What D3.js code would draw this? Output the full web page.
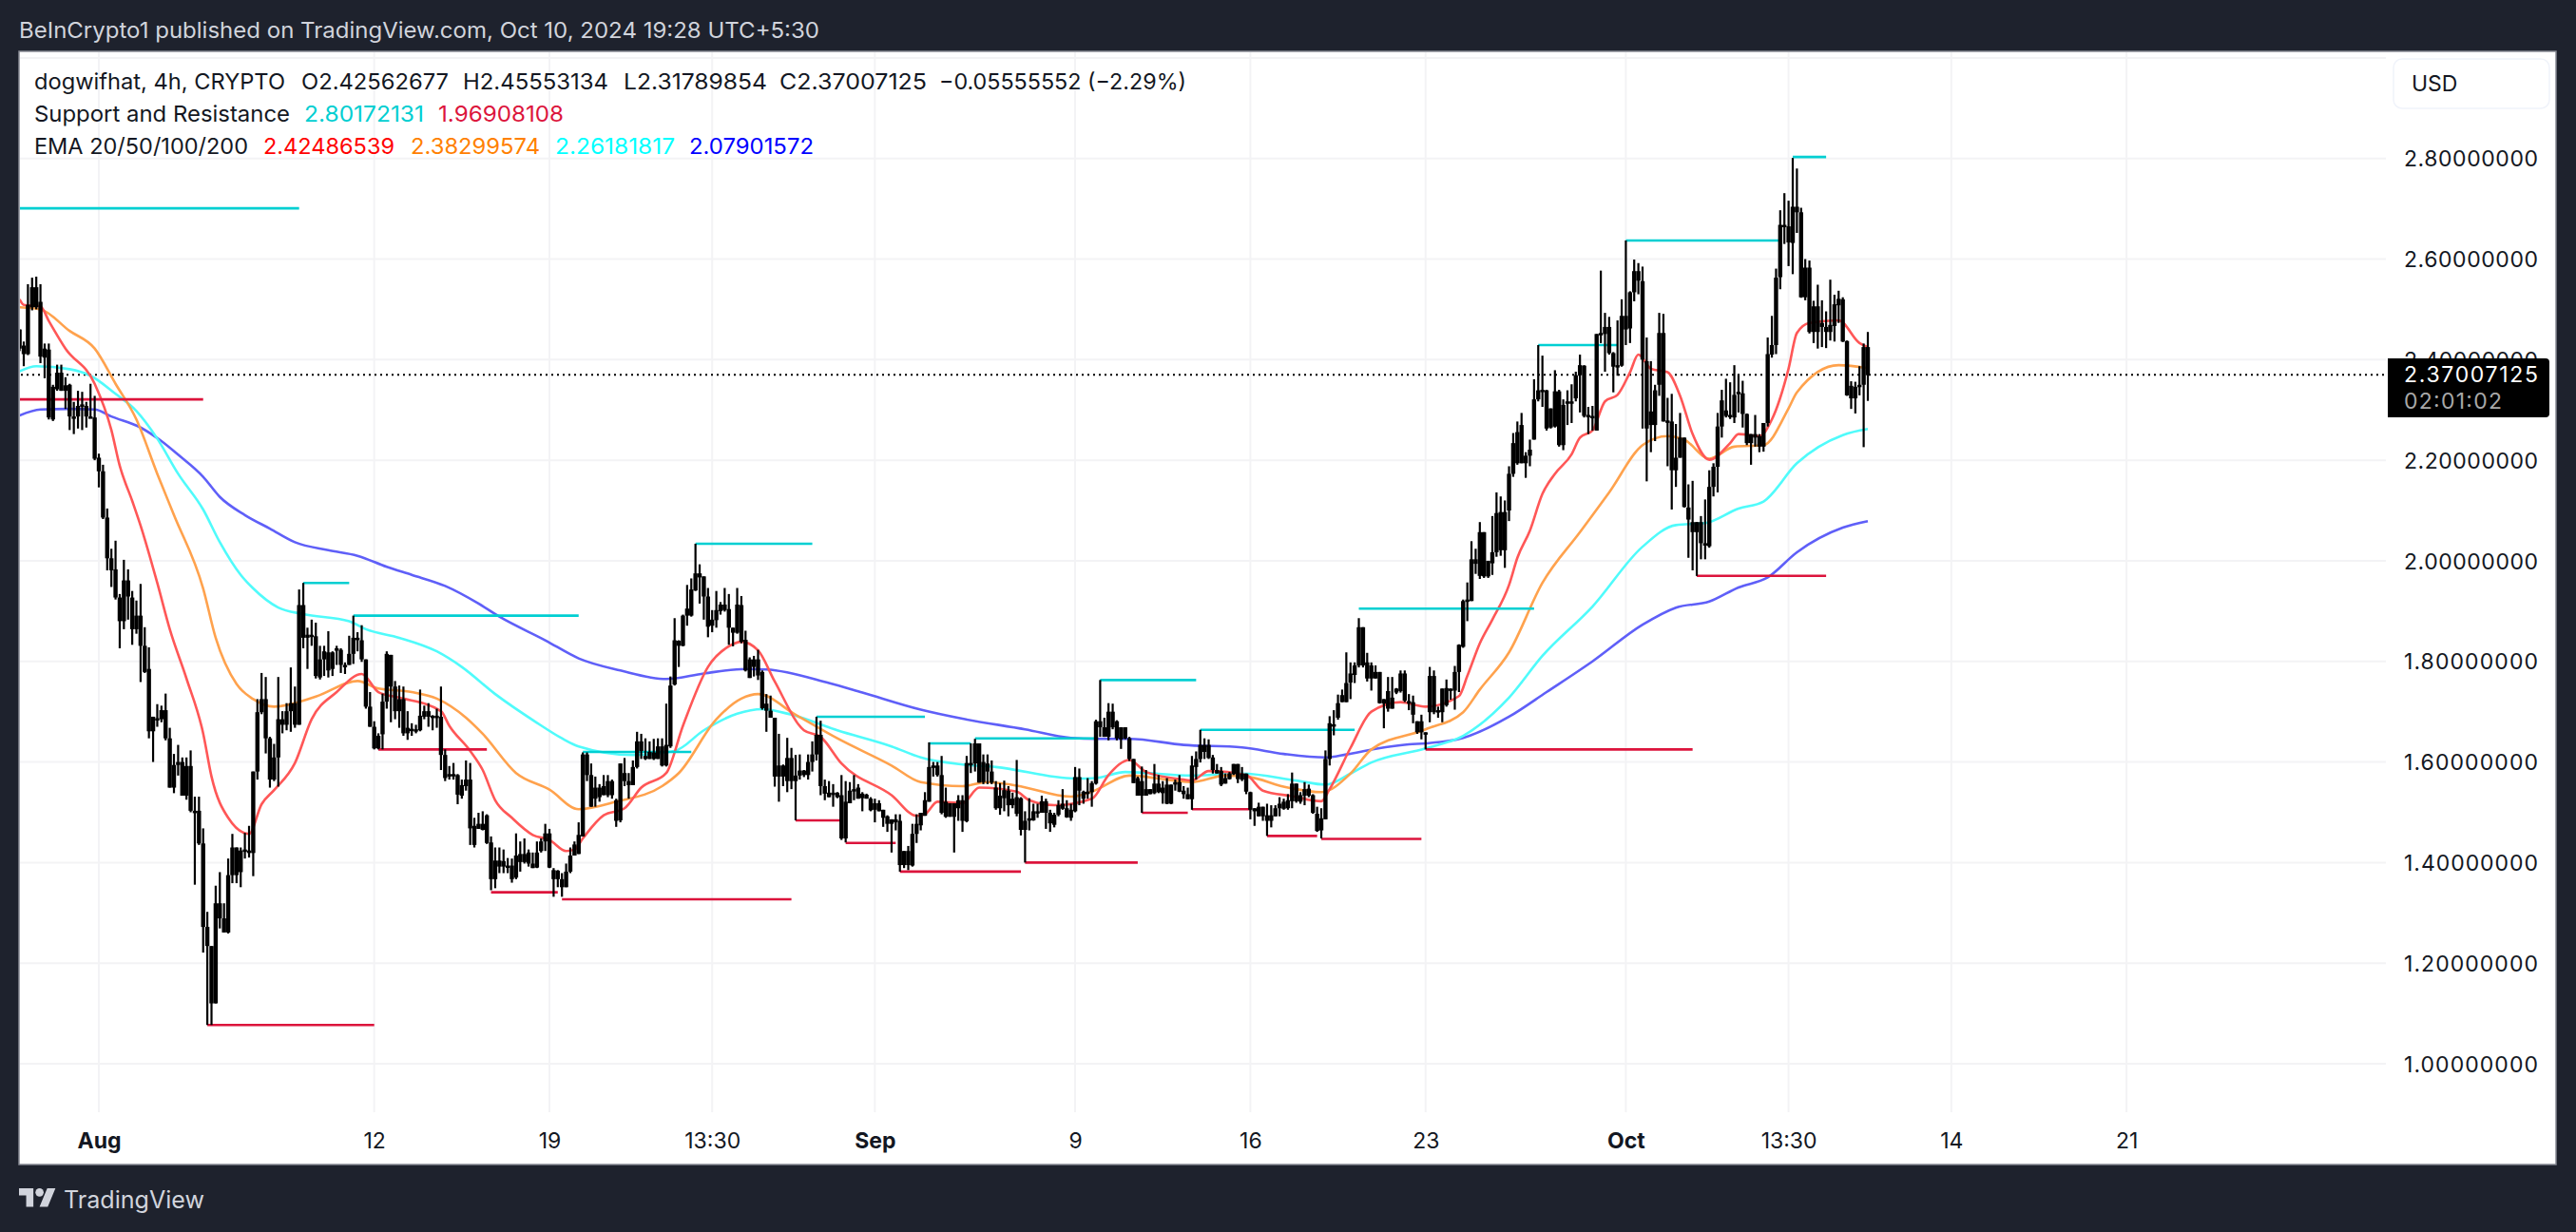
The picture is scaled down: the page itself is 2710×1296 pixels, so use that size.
<!DOCTYPE html>
<html lang="en">
<head>
<meta charset="utf-8">
<title>dogwifhat 4h</title>
<script src="https://d3js.org/d3.v7.min.js"></script>
<style>
html, body { margin: 0; padding: 0; background: #1e222d; }
svg { display: block; }
text { font-family: Inter, "Noto Sans", sans-serif; }
</style>
</head>
<body>
<div id="container"></div>
<script>
// candles: [high, body edge, body edge, low]; index 0 = Aug 1, 6 candles a day
var firstCandle = -19;
var candlesJul = [
[2.460,2.460,2.422,2.417],[2.436,2.428,2.411,2.387],[2.550,2.509,2.411,2.409],[2.563,2.544,2.504,2.498],[2.565,2.544,2.504,2.500],
[2.550,2.515,2.406,2.393],[2.432,2.422,2.404,2.363],[2.432,2.420,2.285,2.281],[2.350,2.346,2.281,2.278],[2.390,2.374,2.341,2.338],
[2.390,2.374,2.338,2.338],[2.365,2.349,2.338,2.302],[2.352,2.350,2.287,2.260],[2.316,2.287,2.285,2.252],[2.338,2.308,2.287,2.263],
[2.336,2.311,2.308,2.260],[2.316,2.308,2.287,2.265],[2.352,2.287,2.285,2.285],[2.328,2.285,2.203,2.200]
];
var candlesAug = [
[2.213,2.205,2.178,2.146],[2.191,2.178,2.086,2.083],[2.104,2.086,2.005,1.981],[2.024,2.005,1.981,1.948],[2.040,1.983,1.927,1.923],
[1.934,1.927,1.880,1.826],[2.002,1.961,1.880,1.864],[1.983,1.961,1.929,1.883],[1.940,1.927,1.864,1.833],[1.921,1.891,1.864,1.855],
[1.954,1.891,1.831,1.759],[1.868,1.831,1.779,1.777],[1.828,1.785,1.661,1.647],[1.690,1.690,1.661,1.600],[1.715,1.687,1.685,1.670],
[1.712,1.703,1.685,1.679],[1.736,1.703,1.647,1.643],[1.668,1.647,1.549,1.549],[1.616,1.594,1.549,1.538],[1.634,1.600,1.594,1.573],
[1.609,1.600,1.533,1.533],[1.609,1.592,1.533,1.525],[1.623,1.592,1.503,1.500],[1.531,1.503,1.501,1.356],[1.531,1.503,1.438,1.435],
[1.468,1.438,1.272,1.221],[1.302,1.272,1.234,1.077],[1.234,1.234,1.120,1.077],[1.354,1.319,1.120,1.120],[1.381,1.319,1.289,1.269],
[1.319,1.289,1.261,1.261],[1.408,1.375,1.261,1.259],[1.457,1.430,1.375,1.359],[1.430,1.430,1.375,1.359],[1.430,1.424,1.381,1.351],
[1.459,1.426,1.424,1.408],[1.473,1.424,1.419,1.410],[1.581,1.581,1.419,1.373],[1.725,1.699,1.581,1.565],[1.777,1.725,1.699,1.695],
[1.769,1.725,1.647,1.617],[1.650,1.647,1.565,1.549],[1.636,1.609,1.565,1.562],[1.769,1.685,1.609,1.551],[1.701,1.685,1.674,1.657],
[1.717,1.701,1.674,1.663],[1.788,1.717,1.701,1.660],[1.750,1.717,1.674,1.668],[1.943,1.912,1.674,1.674],[1.956,1.912,1.847,1.826],
[1.867,1.853,1.847,1.785],[1.883,1.853,1.850,1.831],[1.877,1.850,1.771,1.766],[1.831,1.804,1.768,1.764],[1.831,1.820,1.804,1.771],
[1.860,1.818,1.782,1.768],[1.820,1.818,1.785,1.771],[1.831,1.826,1.822,1.793],[1.826,1.823,1.793,1.777],[1.798,1.793,1.791,1.775],
[1.851,1.815,1.793,1.793],[1.891,1.847,1.815,1.795],[1.858,1.847,1.844,1.820],[1.872,1.842,1.804,1.799],[1.804,1.804,1.710,1.706],
[1.739,1.710,1.670,1.670],[1.681,1.670,1.627,1.625],[1.657,1.652,1.627,1.625],[1.736,1.720,1.655,1.625],[1.820,1.815,1.720,1.706],
[1.813,1.813,1.750,1.679],[1.761,1.750,1.701,1.685],[1.752,1.725,1.701,1.668],[1.750,1.725,1.657,1.652],[1.701,1.668,1.657,1.644],
[1.677,1.666,1.663,1.652],[1.674,1.665,1.663,1.657],[1.744,1.692,1.663,1.661],[1.712,1.701,1.690,1.685],[1.717,1.701,1.690,1.670],
[1.693,1.692,1.690,1.663],[1.706,1.692,1.690,1.668],[1.750,1.690,1.614,1.584],[1.625,1.614,1.568,1.562],[1.592,1.576,1.571,1.565],
[1.598,1.576,1.574,1.565],[1.576,1.574,1.535,1.516],[1.565,1.554,1.533,1.527],[1.603,1.565,1.552,1.543],[1.598,1.565,1.468,1.435],
[1.489,1.473,1.435,1.430],[1.499,1.477,1.467,1.467],[1.502,1.477,1.465,1.464],[1.496,1.494,1.439,1.437],[1.452,1.440,1.367,1.345],
[1.430,1.404,1.367,1.349],[1.430,1.404,1.392,1.379],[1.426,1.403,1.392,1.379],[1.409,1.394,1.392,1.379],[1.408,1.394,1.367,1.360],
[1.458,1.414,1.370,1.367],[1.442,1.417,1.401,1.382],[1.448,1.417,1.401,1.398],[1.426,1.420,1.398,1.392],[1.420,1.398,1.389,1.389],
[1.442,1.420,1.390,1.389],[1.448,1.442,1.423,1.420],[1.477,1.458,1.442,1.423],[1.467,1.458,1.390,1.389],[1.389,1.385,1.367,1.332],
[1.385,1.384,1.367,1.351],[1.379,1.367,1.351,1.332],[1.398,1.382,1.351,1.351],[1.430,1.414,1.382,1.379],[1.442,1.436,1.414,1.414],
[1.480,1.455,1.417,1.417],[1.619,1.615,1.452,1.452],[1.619,1.615,1.574,1.562],[1.597,1.574,1.511,1.511],[1.571,1.549,1.527,1.511],
[1.556,1.549,1.530,1.521],[1.574,1.552,1.534,1.534],[1.574,1.562,1.534,1.530],[1.565,1.562,1.534,1.527],[1.527,1.524,1.483,1.471],
[1.597,1.597,1.484,1.480],[1.608,1.578,1.562,1.552],[1.578,1.562,1.554,1.527],[1.603,1.590,1.554,1.554],[1.660,1.641,1.590,1.587],
[1.656,1.641,1.622,1.606],[1.647,1.612,1.606,1.604],[1.641,1.620,1.606,1.606],[1.646,1.619,1.606,1.604],[1.647,1.631,1.606,1.606],
[1.647,1.631,1.593,1.591],[1.716,1.634,1.593,1.591],[1.770,1.752,1.631,1.628],[1.886,1.842,1.754,1.752],[1.842,1.841,1.831,1.789],
[1.893,1.891,1.831,1.830],[1.952,1.905,1.891,1.871],[1.965,1.943,1.891,1.889],[2.034,1.975,1.941,1.940],[1.993,1.975,1.967,1.915],
[1.969,1.969,1.929,1.883],[1.946,1.929,1.869,1.848],[1.902,1.883,1.871,1.858],[1.940,1.902,1.882,1.867],[1.918,1.913,1.900,1.893],
[1.946,1.913,1.902,1.899],[1.934,1.904,1.867,1.833],[1.867,1.867,1.857,1.830],[1.946,1.913,1.857,1.855],[1.930,1.912,1.839,1.836],
[1.861,1.843,1.782,1.780],[1.808,1.804,1.767,1.767],[1.811,1.804,1.789,1.770],[1.823,1.804,1.772,1.763],[1.782,1.779,1.707,1.704],
[1.735,1.716,1.702,1.660],[1.732,1.702,1.688,1.688],[1.688,1.688,1.571,1.551],[1.656,1.593,1.571,1.521],[1.595,1.593,1.571,1.552],
[1.648,1.608,1.562,1.540],[1.628,1.608,1.562,1.546],[1.614,1.573,1.562,1.484],[1.615,1.583,1.573,1.565],[1.584,1.583,1.574,1.570],
[1.615,1.600,1.574,1.565],[1.641,1.615,1.600,1.581],[1.690,1.654,1.615,1.603],[1.682,1.654,1.552,1.534],[1.565,1.552,1.537,1.524],
[1.562,1.539,1.530,1.530],[1.556,1.539,1.537,1.511],[1.540,1.539,1.530,1.528],[1.574,1.534,1.448,1.445],[1.562,1.521,1.448,1.440],
[1.560,1.543,1.518,1.518],[1.574,1.546,1.543,1.524],[1.556,1.549,1.527,1.527],[1.540,1.537,1.528,1.502],[1.537,1.535,1.527,1.527],
[1.530,1.527,1.504,1.502]
];
var candlesSep = [
[1.527,1.518,1.505,1.480],[1.524,1.518,1.502,1.502],[1.505,1.505,1.489,1.471],[1.494,1.492,1.477,1.461],[1.486,1.486,1.477,1.420],
[1.496,1.486,1.480,1.464],[1.496,1.483,1.395,1.382],[1.423,1.423,1.395,1.389],[1.433,1.423,1.395,1.385],[1.477,1.457,1.394,1.392],
[1.496,1.477,1.457,1.439],[1.499,1.499,1.474,1.464],[1.540,1.524,1.493,1.493],[1.639,1.590,1.521,1.521],[1.600,1.593,1.590,1.571],
[1.600,1.593,1.574,1.571],[1.612,1.574,1.499,1.496],[1.549,1.521,1.491,1.489],[1.518,1.518,1.491,1.491],[1.518,1.518,1.491,1.420],
[1.534,1.524,1.508,1.483],[1.534,1.524,1.483,1.461],[1.612,1.598,1.482,1.480],[1.637,1.598,1.597,1.578],[1.646,1.637,1.597,1.581],
[1.637,1.637,1.559,1.559],[1.615,1.600,1.560,1.556],[1.615,1.597,1.581,1.556],[1.603,1.581,1.559,1.556],[1.562,1.549,1.508,1.505],
[1.558,1.533,1.508,1.495],[1.563,1.544,1.528,1.502],[1.552,1.543,1.514,1.492],[1.539,1.527,1.514,1.508],[1.604,1.530,1.497,1.492],
[1.530,1.528,1.465,1.454],[1.502,1.483,1.465,1.400],[1.528,1.488,1.486,1.464],[1.517,1.502,1.484,1.483],[1.517,1.502,1.500,1.489],
[1.533,1.522,1.499,1.499],[1.527,1.522,1.499,1.467],[1.505,1.499,1.478,1.461],[1.499,1.495,1.475,1.470],[1.524,1.514,1.495,1.492],
[1.546,1.517,1.507,1.505],[1.524,1.508,1.490,1.489],[1.517,1.505,1.489,1.483],[1.590,1.570,1.502,1.500],[1.587,1.570,1.543,1.514],
[1.543,1.541,1.527,1.517],[1.568,1.541,1.540,1.527],[1.562,1.558,1.540,1.511],[1.684,1.681,1.557,1.555],[1.763,1.681,1.669,1.650],
[1.688,1.669,1.650,1.650],[1.717,1.700,1.650,1.643],[1.716,1.700,1.669,1.665],[1.683,1.681,1.647,1.643],[1.669,1.669,1.645,1.626],
[1.669,1.669,1.647,1.645],[1.650,1.647,1.606,1.602],[1.606,1.606,1.558,1.558],[1.571,1.568,1.533,1.533],[1.591,1.562,1.533,1.499],
[1.584,1.546,1.533,1.533],[1.546,1.546,1.536,1.536],[1.596,1.557,1.538,1.536],[1.574,1.557,1.540,1.538],[1.562,1.549,1.538,1.517],
[1.568,1.555,1.517,1.516],[1.555,1.555,1.517,1.516],[1.565,1.560,1.555,1.543],[1.574,1.560,1.541,1.540],[1.552,1.543,1.536,1.527],
[1.549,1.536,1.526,1.526],[1.612,1.593,1.526,1.505],[1.621,1.606,1.590,1.565],[1.664,1.634,1.606,1.599],[1.647,1.634,1.620,1.606],
[1.645,1.634,1.608,1.606],[1.614,1.609,1.584,1.577],[1.596,1.584,1.577,1.577],[1.590,1.582,1.555,1.552],[1.577,1.568,1.557,1.557],
[1.580,1.577,1.566,1.565],[1.596,1.596,1.576,1.574],[1.596,1.596,1.566,1.558],[1.590,1.577,1.565,1.562],[1.577,1.577,1.541,1.536],
[1.541,1.540,1.505,1.486],[1.508,1.508,1.502,1.473],[1.519,1.511,1.492,1.492],[1.511,1.511,1.492,1.483],[1.517,1.494,1.483,1.453],
[1.514,1.494,1.483,1.470],[1.514,1.508,1.492,1.492],[1.530,1.517,1.508,1.492],[1.527,1.521,1.507,1.505],[1.536,1.524,1.508,1.505],
[1.579,1.557,1.522,1.508],[1.557,1.557,1.522,1.519],[1.540,1.534,1.521,1.517],[1.560,1.546,1.533,1.514],[1.555,1.547,1.533,1.530],
[1.536,1.534,1.499,1.497],[1.511,1.497,1.463,1.461],[1.508,1.488,1.464,1.448],[1.623,1.606,1.486,1.486],[1.691,1.677,1.606,1.593],
[1.703,1.675,1.672,1.653],[1.734,1.717,1.688,1.684],[1.744,1.733,1.719,1.719],[1.818,1.757,1.719,1.719],[1.798,1.776,1.758,1.725],
[1.798,1.792,1.773,1.757],[1.886,1.868,1.792,1.788],[1.868,1.868,1.792,1.788],[1.817,1.798,1.766,1.760],[1.798,1.792,1.766,1.742],
[1.792,1.779,1.766,1.766],[1.779,1.779,1.717,1.716],[1.725,1.725,1.716,1.667],[1.769,1.741,1.706,1.700],[1.769,1.728,1.706,1.706],
[1.747,1.746,1.738,1.735],[1.782,1.776,1.741,1.738],[1.782,1.776,1.722,1.719],[1.735,1.721,1.719,1.703],[1.732,1.719,1.694,1.677],
[1.681,1.681,1.659,1.656],[1.694,1.681,1.659,1.645],[1.659,1.659,1.658,1.625],[1.789,1.771,1.699,1.679],[1.782,1.771,1.699,1.695],
[1.710,1.703,1.699,1.688],[1.746,1.746,1.699,1.679],[1.764,1.747,1.713,1.710],[1.746,1.746,1.744,1.724],[1.791,1.779,1.742,1.704],
[1.834,1.833,1.779,1.739],[1.923,1.920,1.829,1.827],[1.957,1.923,1.920,1.880],[2.039,2.003,1.920,1.920],[2.024,2.003,1.994,1.974],
[2.077,2.057,1.970,1.964],[2.057,2.057,1.969,1.966],[2.000,2.000,1.969,1.966],[2.089,2.017,1.995,1.972],[2.136,2.095,2.017,2.008],
[2.128,2.097,2.021,2.010],[2.120,2.097,2.021,1.986],[2.188,2.173,2.100,2.079],[2.254,2.234,2.173,2.167],[2.277,2.256,2.194,2.191],
[2.294,2.270,2.194,2.194],[2.216,2.209,2.194,2.165],[2.241,2.221,2.209,2.188],[2.361,2.321,2.241,2.241],[2.429,2.339,2.321,2.317],
[2.408,2.340,2.339,2.306],[2.340,2.339,2.263,2.259],[2.303,2.303,2.265,2.263],[2.379,2.337,2.267,2.265],[2.340,2.337,2.230,2.227],
[2.321,2.310,2.230,2.220],[2.339,2.317,2.314,2.270],[2.351,2.317,2.316,2.274],[2.376,2.369,2.323,2.317],[2.410,2.389,2.369,2.295],
[2.389,2.388,2.288,2.285],[2.306,2.290,2.288,2.252],[2.308,2.288,2.287,2.259],[2.451,2.451,2.259,2.259],[2.577,2.453,2.451,2.433],
[2.493,2.465,2.451,2.376],[2.485,2.465,2.413,2.410],[2.415,2.413,2.386,2.335],[2.478,2.389,2.388,2.368],[2.520,2.487,2.388,2.386]
];
var candlesOct = [
[2.637,2.487,2.460,2.429],[2.536,2.534,2.462,2.433],[2.599,2.576,2.534,2.516],[2.592,2.576,2.557,2.530],[2.585,2.556,2.400,2.263],
[2.444,2.397,2.263,2.158],[2.397,2.297,2.270,2.216],[2.350,2.339,2.270,2.238],[2.493,2.453,2.350,2.328],[2.491,2.453,2.277,2.277],
[2.324,2.279,2.277,2.188],[2.332,2.277,2.180,2.102],[2.272,2.205,2.180,2.147],[2.294,2.245,2.205,2.205],[2.245,2.245,2.107,2.106],
[2.152,2.106,2.082,2.006],[2.159,2.077,2.057,1.981],[2.077,2.077,2.057,1.970],[2.089,2.077,2.035,2.003],[2.122,2.035,2.032,2.003],
[2.180,2.147,2.029,2.026],[2.194,2.187,2.147,2.128],[2.294,2.267,2.187,2.136],[2.340,2.319,2.267,2.245],[2.362,2.299,2.288,2.285],
[2.355,2.290,2.288,2.282],[2.389,2.330,2.285,2.274],[2.371,2.336,2.334,2.295],[2.358,2.333,2.292,2.265],[2.293,2.292,2.234,2.230],
[2.252,2.252,2.234,2.191],[2.290,2.252,2.245,2.227],[2.252,2.248,2.227,2.216],[2.274,2.274,2.227,2.217],[2.444,2.411,2.274,2.267],
[2.487,2.429,2.410,2.404],[2.581,2.563,2.429,2.411],[2.697,2.668,2.564,2.540],[2.731,2.668,2.665,2.630],[2.716,2.665,2.633,2.586],
[2.801,2.704,2.632,2.570],[2.780,2.704,2.693,2.652],[2.702,2.693,2.524,2.523],[2.600,2.583,2.524,2.518],[2.597,2.583,2.455,2.452],
[2.517,2.506,2.455,2.433],[2.549,2.506,2.455,2.422],[2.518,2.473,2.465,2.425],[2.496,2.465,2.455,2.423],[2.559,2.469,2.455,2.438],
[2.529,2.510,2.467,2.436],[2.537,2.521,2.508,2.473],[2.524,2.520,2.436,2.435],[2.438,2.437,2.329,2.328],[2.357,2.348,2.323,2.302],
[2.356,2.346,2.323,2.293],[2.387,2.350,2.348,2.329],[2.432,2.425,2.350,2.226],[2.455,2.425,2.369,2.318]
];

// EMA readings: [candle index, price]
var ema20 = [[-19,2.520],[-18,2.509],[-14,2.506],[-12,2.477],[-8,2.422],[-1,2.352],[3,2.260],[5,2.189],[8,2.119],[10,2.070],[14,1.956],[17,1.864],[21,1.766],[25,1.657],[27,1.571],[31,1.489],[36,1.457],[39,1.516],[42,1.544],[47,1.598],[51,1.685],[57,1.739],[63,1.775],[67,1.739],[72,1.728],[82,1.701],[84,1.672],[89,1.622],[92,1.584],[95,1.524],[99,1.489],[104,1.455],[108,1.445],[112,1.423],[114,1.426],[116,1.448],[121,1.494],[126,1.508],[130,1.549],[136,1.578],[140,1.672],[146,1.789],[151,1.830],[154,1.839],[158,1.822],[162,1.760],[169,1.663],[173,1.650],[178,1.597],[190,1.534],[196,1.493],[198,1.496],[201,1.521],[207,1.518],[211,1.549],[220,1.541],[223,1.524],[229,1.514],[238,1.527],[242,1.574],[247,1.604],[251,1.580],[260,1.565],[262,1.563],[266,1.582],[275,1.574],[279,1.543],[286,1.532],[293,1.522],[295,1.546],[300,1.628],[305,1.700],[312,1.719],[318,1.710],[326,1.731],[328,1.771],[331,1.836],[334,1.883],[338,1.952],[340,2.006],[343,2.060],[346,2.133],[349,2.173],[353,2.212],[355,2.245],[358,2.259],[361,2.317],[364,2.330],[367,2.375],[369,2.410],[372,2.382],[376,2.375],[379,2.328],[382,2.252],[386,2.201],[391,2.234],[393,2.252],[398,2.248],[401,2.281],[405,2.382],[407,2.453],[410,2.473],[417,2.478],[422,2.433],[424,2.425]];
var ema50 = [[-19,2.504],[-14,2.500],[-7,2.457],[-1,2.422],[4,2.352],[9,2.281],[14,2.173],[18,2.091],[25,1.945],[28,1.847],[33,1.755],[37,1.725],[42,1.710],[52,1.730],[62,1.761],[67,1.746],[75,1.739],[81,1.726],[88,1.688],[92,1.656],[100,1.578],[108,1.545],[115,1.506],[124,1.521],[135,1.552],[139,1.578],[148,1.685],[154,1.726],[158,1.735],[167,1.694],[177,1.647],[190,1.593],[197,1.560],[207,1.552],[213,1.560],[220,1.553],[233,1.531],[238,1.541],[247,1.573],[262,1.560],[270,1.573],[275,1.571],[285,1.549],[293,1.540],[300,1.577],[305,1.625],[318,1.665],[327,1.699],[331,1.744],[338,1.818],[346,1.956],[355,2.057],[362,2.136],[370,2.230],[376,2.248],[380,2.241],[386,2.203],[392,2.227],[399,2.230],[405,2.303],[407,2.335],[417,2.389],[424,2.383]];
var ema100 = [[-19,2.377],[-15,2.387],[-7,2.381],[-2,2.368],[4,2.332],[9,2.298],[14,2.243],[19,2.173],[25,2.102],[29,2.037],[34,1.972],[37,1.945],[43,1.907],[49,1.894],[60,1.880],[64,1.864],[72,1.847],[81,1.820],[87,1.789],[95,1.735],[105,1.678],[111,1.647],[115,1.631],[128,1.614],[138,1.622],[145,1.663],[153,1.696],[159,1.705],[166,1.694],[177,1.663],[190,1.631],[197,1.609],[207,1.595],[215,1.590],[234,1.567],[239,1.568],[246,1.580],[262,1.573],[274,1.577],[287,1.563],[294,1.555],[300,1.577],[305,1.599],[318,1.627],[327,1.652],[338,1.728],[346,1.811],[358,1.909],[370,2.028],[378,2.071],[385,2.075],[393,2.104],[399,2.118],[407,2.194],[418,2.250],[424,2.262]];
var ema200 = [[-19,2.289],[-14,2.301],[-7,2.302],[-1,2.301],[3,2.287],[10,2.265],[15,2.238],[19,2.211],[25,2.167],[29,2.127],[35,2.091],[41,2.064],[47,2.037],[55,2.021],[62,2.010],[69,1.988],[75,1.972],[83,1.950],[91,1.915],[96,1.889],[107,1.842],[115,1.806],[125,1.782],[136,1.765],[145,1.776],[155,1.785],[160,1.784],[175,1.757],[183,1.738],[197,1.704],[207,1.686],[222,1.665],[233,1.648],[239,1.646],[247,1.646],[260,1.634],[274,1.629],[284,1.616],[294,1.609],[299,1.615],[306,1.626],[314,1.635],[318,1.637],[327,1.648],[338,1.690],[347,1.739],[358,1.800],[370,1.873],[378,1.907],[386,1.919],[393,1.947],[400,1.967],[407,2.017],[418,2.066],[424,2.079]];

// support and resistance levels: [first candle, last candle, price]
var resistance = [[-19,48,2.701],[49,60,1.956],[61,115,1.891],[116,142,1.620],[143,171,2.034],[172,198,1.690],[199,209,1.637],[210,239,1.647],[240,263,1.763],[264,301,1.664],[302,344,1.905],[345,364,2.429],[366,403,2.637],[406,414,2.803]];
var support = [[-19,25,2.321],[26,66,1.077],[67,93,1.625],[94,110,1.341],[111,166,1.327],[167,178,1.484],[179,191,1.439],[192,221,1.382],[222,249,1.400],[250,261,1.499],[262,276,1.506],[280,292,1.453],[293,317,1.447],[318,382,1.625],[383,414,1.970]];

var priceTicks = [1.0,1.2,1.4,1.6,1.8,2.0,2.2,2.4,2.6,2.8];
var gridPrices = [1.0,1.2,1.4,1.6,1.8,2.0,2.2,2.4,2.6,2.8,3.0];
var timeTicks = [0,66,108,147,186,234,276,318,366,405,444,486];
var timeLabels = ["Aug","12","19","13:30","Sep","9","16","23","Oct","13:30","14","21"];
var lastPrice = 2.37007125;

var w = 2710, h = 1296;
var svg = d3.select("#container").append("svg").attr("width", w).attr("height", h).attr("viewBox", "0 0 " + w + " " + h);

var x = d3.scaleLinear().domain([0, 424]).range([104, 1965]);
var y = d3.scaleLinear().domain([1.0, 2.8]).range([1119, 166.7]);

// frame
svg.append("rect").attr("width", w).attr("height", h).attr("fill", "#1e222d");
svg.append("rect").attr("x", 20).attr("y", 54).attr("width", 2669).attr("height", 1171)
    .attr("fill", "#fff").attr("stroke", "#868993").attr("stroke-width", 1.5);

svg.append("clipPath").attr("id", "plot").append("rect").attr("x", 21).attr("y", 55).attr("width", 2489).attr("height", 1115);
var plot = svg.append("g").attr("clip-path", "url(#plot)");

// grid
plot.selectAll(".gh").data(gridPrices).join("line").attr("class", "gh")
    .attr("x1", 20).attr("x2", 2510).attr("y1", d => y(d)).attr("y2", d => y(d))
    .attr("stroke", "#f3f3f5").attr("stroke-width", 2);
plot.selectAll(".gv").data(timeTicks).join("line").attr("class", "gv")
    .attr("x1", d => x(d)).attr("x2", d => x(d)).attr("y1", 54).attr("y2", 1170)
    .attr("stroke", "#f3f3f5").attr("stroke-width", 2);

// last price line
plot.append("line").attr("x1", 22).attr("x2", 2510).attr("y1", y(lastPrice)).attr("y2", y(lastPrice))
    .attr("stroke", "#000").attr("stroke-width", 2).attr("stroke-dasharray", "2 4");

// EMAs
var emaLine = d3.line().x(d => x(d[0])).y(d => y(d[1])).curve(d3.curveMonotoneX);
var emas = [[ema200, "#5f5ff8"], [ema100, "#50fbfb"], [ema50, "#ffa24d"], [ema20, "#ff5757"]];
plot.selectAll(".ema").data(emas).join("path").attr("class", "ema")
    .attr("d", d => emaLine(d[0])).attr("fill", "none").attr("stroke", d => d[1]).attr("stroke-width", 2.6);

// levels
function levels(data, color) {
    plot.append("g").selectAll("line").data(data).join("line")
        .attr("x1", d => x(d[0])).attr("x2", d => x(d[1]))
        .attr("y1", d => y(d[2])).attr("y2", d => y(d[2]))
        .attr("stroke", color).attr("stroke-width", 2.6);
}
levels(resistance, "#00cfd2");
levels(support, "#dc143c");

// candles
var candles = candlesJul.concat(candlesAug, candlesSep, candlesOct);
var candleG = plot.selectAll(".candle").data(candles).join("g").attr("class", "candle");
candleG.append("rect")
    .attr("x", (d, i) => x(i + firstCandle) - 1.1).attr("width", 2.2)
    .attr("y", d => y(d[0])).attr("height", d => y(d[3]) - y(d[0])).attr("fill", "#000");
candleG.append("rect")
    .attr("x", (d, i) => x(i + firstCandle) - 2.2).attr("width", 4.4)
    .attr("y", d => y(Math.max(d[1], d[2])))
    .attr("height", d => Math.max(2.5, Math.abs(y(d[1]) - y(d[2])))).attr("fill", "#000");

// price axis
var yAxis = d3.axisRight(y).tickValues(priceTicks).tickFormat(d3.format(".8f")).tickSize(0).tickPadding(0);
var yG = svg.append("g").attr("transform", "translate(2529,0)").call(yAxis);
yG.select(".domain").remove();
yG.selectAll("text").attr("font-size", 23).attr("fill", "#131722").attr("textLength", 141)
    .attr("font-family", "Inter").attr("dy", "0.35em");

// last price tag
svg.append("path").attr("fill", "#000")
    .attr("d", "M2512 377H2678a4 4 0 0 1 4 4V435a4 4 0 0 1 -4 4H2512Z");
svg.append("text").attr("x", 2529).attr("y", y(lastPrice)).attr("dy", "0.35em").attr("fill", "#fff")
    .attr("font-size", 23).attr("textLength", 141).text(d3.format(".8f")(lastPrice));
svg.append("text").attr("x", 2529).attr("y", 422).attr("dy", "0.35em").attr("fill", "#a8a8a8")
    .attr("font-size", 23).attr("textLength", 103).text("02:01:02");

// USD button
svg.append("rect").attr("x", 2518).attr("y", 62).attr("width", 164).attr("height", 52).attr("rx", 9)
    .attr("fill", "#fff").attr("stroke", "#f0f3fa").attr("stroke-width", 1.5);
svg.append("text").attr("x", 2537).attr("y", 88).attr("dy", "0.35em").attr("fill", "#131722").attr("font-size", 23).text("USD");

// time axis
var xAxis = d3.axisBottom(x).tickValues(timeTicks).tickFormat((d, i) => timeLabels[i]).tickSize(0).tickPadding(0);
var xG = svg.append("g").attr("transform", "translate(0,1200)").call(xAxis);
xG.select(".domain").remove();
xG.selectAll("text").attr("font-size", 23).attr("fill", "#131722").attr("font-family", "Inter").attr("dy", "0.35em").attr("y", 0)
    .attr("font-weight", (d, i) => isNaN(+timeLabels[i]) && timeLabels[i].indexOf(":") < 0 ? 700 : 400);

// legend text: [x, y, colour, text, width]
var legend = [
    [20, 32, "#d1d4dc", "BeInCrypto1 published on TradingView.com, Oct 10, 2024 19:28 UTC+5:30", 842],
    [36, 86, "#131722", "dogwifhat, 4h, CRYPTO", 264],
    [317, 86, "#131722", "O2.42562677", 155],
    [487, 86, "#131722", "H2.45553134", 153],
    [656, 86, "#131722", "L2.31789854", 151],
    [820, 86, "#131722", "C2.37007125", 155],
    [988, 86, "#131722", "\u22120.05555552 (\u22122.29%)", 260],
    [36, 120, "#131722", "Support and Resistance", 269],
    [320, 120, "#00ced1", "2.80172131", 126],
    [461, 120, "#dc143c", "1.96908108", 132],
    [36, 154, "#131722", "EMA 20/50/100/200", 225],
    [277, 154, "#ff0000", "2.42486539", 138],
    [432, 154, "#ff8000", "2.38299574", 136],
    [584, 154, "#00ffff", "2.26181817", 126],
    [725, 154, "#0000ff", "2.07901572", 131]
];
svg.selectAll(".legend").data(legend).join("text").attr("class", "legend")
    .attr("x", d => d[0]).attr("y", d => d[1]).attr("dy", "0.35em").attr("fill", d => d[2])
    .attr("font-size", 23).attr("textLength", d => d[4]).attr("lengthAdjust", "spacingAndGlyphs").text(d => d[3]);

// TradingView mark
var logo = svg.append("g").attr("transform", "translate(20,1245.7) scale(1.08)").attr("fill", "#d1d4dc");
logo.append("path").attr("d", "M14 22H7V11H0V4h14v18zM28 22h-8l7.5-18h8L28 22z");
logo.append("circle").attr("cx", 20).attr("cy", 8).attr("r", 4);
svg.append("text").attr("x", 67).attr("y", 1262).attr("dy", "0.35em").attr("fill", "#d1d4dc")
    .attr("font-size", 25).attr("textLength", 148).attr("lengthAdjust", "spacingAndGlyphs").text("TradingView");
</script>
</body>
</html>
